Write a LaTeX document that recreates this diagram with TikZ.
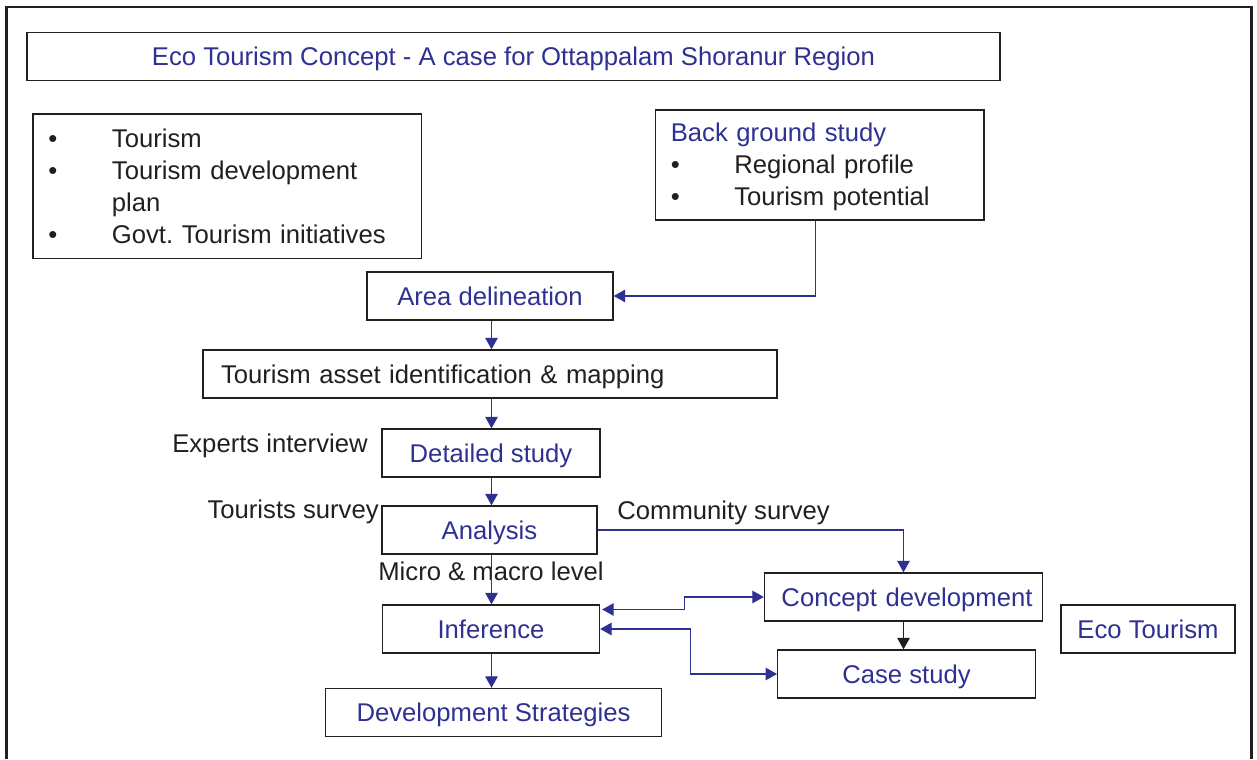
\documentclass[tikz,border=0pt]{standalone}
\usepackage{fontspec}
\setmainfont{Liberation Sans}
\usepackage{tikz}
\usetikzlibrary{arrows.meta}

\definecolor{ink}{RGB}{46,49,146}
\definecolor{dark}{RGB}{35,31,32}

\newcommand{\bul}[1]{\makebox[1.27cm][l]{\textbullet}#1}

\begin{document}
\begin{tikzpicture}[
  font=\fontsize{14.6}{18.1}\selectfont,
  box/.style={draw=dark, line width=0.75pt, minimum height=0.96cm, inner sep=0pt, text height=0.40cm, text depth=0.03cm, text=ink},
  listbox/.style={draw=dark, line width=0.75pt, inner xsep=0.31cm, inner ysep=0pt, align=left, anchor=north west, text=dark},
  note/.style={inner sep=0pt, text=dark},
  flow/.style={ink, line width=0.7pt, -{Triangle[length=0.23cm,width=0.25cm]}},
  twoway/.style={ink, line width=0.7pt, {Triangle[length=0.23cm,width=0.25cm]}-{Triangle[length=0.23cm,width=0.25cm]}}
]
\useasboundingbox (0,0) rectangle (25.14,15.18);

%draw outer frame (open at the bottom)
\draw[dark, line width=1.4pt] (0.134,0) -- (0.134,15.045) -- (25.03,15.045) -- (25.03,0);

%draw heading
\node[box, minimum width=19.46cm, minimum height=0.97cm] (title) at (10.27,14.05) {Eco Tourism Concept - A case for Ottappalam Shoranur Region};

%draw the two list boxes
\node[listbox, text width=7.15cm, text height=0.68cm, text depth=2.21cm] (topics) at (0.646,12.914)
  {\bul{Tourism}\\\bul{Tourism development}\\\hspace*{1.27cm}plan\\\bul{Govt.\ Tourism initiatives}};
\node[listbox, text width=5.95cm, text height=0.64cm, text depth=1.56cm] (background) at (13.094,12.994)
  {\textcolor{ink}{Back ground study}\\\bul{Regional profile}\\\bul{Tourism potential}};

%draw main column
\node[box, minimum width=4.92cm] (area) at (9.80,9.26) {Area delineation};
\node[box, minimum width=11.48cm, text width=10.76cm, inner xsep=0.36cm, align=left, text=dark] (asset) at (9.80,7.70) {Tourism asset identification \& mapping};
\node[box, minimum width=4.36cm] (detail) at (9.82,6.12) {Detailed study};
\node[box, minimum width=4.30cm] (analysis) at (9.79,4.58) {Analysis};
\node[box, minimum width=4.34cm] (inference) at (9.82,2.60) {Inference};
\node[box, minimum width=6.71cm] (strategies) at (9.87,0.93) {Development Strategies};

%draw right hand boxes
\node[box, text width=5.16cm, inner xsep=0.2cm, align=right] (concept) at (18.07,3.24) {Concept development};
\node[box, minimum width=5.15cm] (casestudy) at (18.13,1.70) {Case study};
\node[box, minimum width=3.48cm] (eco) at (22.96,2.60) {Eco Tourism};

%draw side notes
\node[note, anchor=base east] (experts) at (7.36,6.12) {Experts interview};
\node[note, anchor=base east] (tourists) at (7.58,4.80) {Tourists survey};
\node[note, anchor=base west] (community) at (12.34,4.78) {Community survey};
\node[note, anchor=base west] (levels) at (7.56,3.56) {Micro \& macro level};

%draw arrows down the main column
\coordinate (spine) at (9.83,0);
\foreach \a/\b in {area/asset,asset/detail,detail/analysis,analysis/inference,inference/strategies}
\draw[flow] (\a.south -| spine) -- (\b.north -| spine);

%draw the other connectors
\draw[flow] ([xshift=-0.08cm]background.south) |- (area.east);
\draw[flow] (analysis.east) -| (concept.north);
\draw[flow, dark] (concept.south) -- (concept.south |- casestudy.north);
\draw[twoway] ([xshift=0.04cm,yshift=0.39cm]inference.east) -- ++(1.65,0) |- (concept.west);
\draw[twoway] (inference.east) -- ++(1.81,0) |- (casestudy.west);
\end{tikzpicture}
\end{document}
